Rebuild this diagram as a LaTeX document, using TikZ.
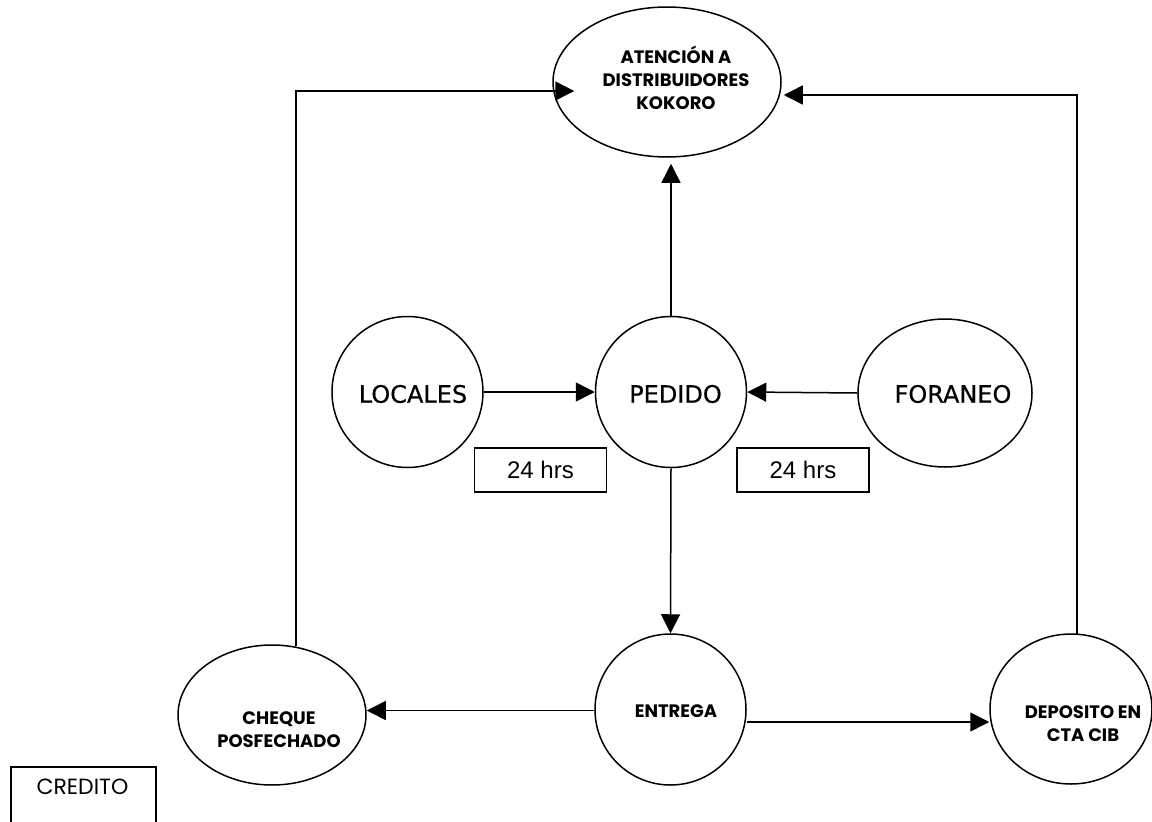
\documentclass[tikz,border=0pt]{standalone}
\usepackage{fontspec}
\setmainfont{Poppins}
\newfontfamily\tahomaf[FakeBold=0.5]{DejaVu Sans}
\newfontfamily\arialf{Liberation Sans}
\usetikzlibrary{arrows.meta,shapes.geometric,calc}
\begin{document}
\begin{tikzpicture}[x=1pt,y=-1pt,
  line width=1.5pt,
  shapeE/.style={draw, ellipse, inner sep=0pt},
  shapeC/.style={draw, circle, inner sep=0pt, minimum size=151pt},
  btext/.style={align=center, font=\fontsize{18}{23}\selectfont\bfseries, inner sep=0pt},
  rtext/.style={font=\fontsize{24}{28}\selectfont\tahomaf, inner sep=0pt},
  hrsbox/.style={draw, rectangle, minimum width=132pt, minimum height=44pt, inner sep=0pt, font=\fontsize{24}{28}\selectfont\arialf},
  arr/.style={-{Triangle[length=19pt,width=19pt]}}
]
\useasboundingbox (0,0) rectangle (1152,822);
\clip (0,0) rectangle (1152,822);

% shapes
\node[shapeE, minimum width=228pt, minimum height=150pt] (aten) at (667,82) {};
\node[shapeC] (loc) at (407.5,392) {};
\node[shapeC] (ped) at (671,392) {};
\node[shapeE, minimum width=174pt, minimum height=148pt] (for) at (945,393) {};
\node[shapeC] (ent) at (670.5,709.5) {};
\node[shapeE, minimum width=188pt, minimum height=140pt] (cheq) at (272,715) {};
\node[shapeE, minimum width=162pt, minimum height=150pt] (dep) at (1071,709) {};

% texts
\node[btext] (atenT) at (676,78) {ATENCIÓN A\\DISTRIBUIDORES\\KOKORO};
\node[rtext] (locT) at (413,394) {LOCALES};
\node[rtext] (pedT) at (675.5,394) {PEDIDO};
\node[rtext] (forT) at (953,394) {FORANEO};
\node[btext] (entT) at (676,711) {ENTREGA};
\node[btext] (cheqT) at (279,730) {CHEQUE\\POSFECHADO};
\node[btext] (depT) at (1083,723.5) {DEPOSITO EN\\CTA CIB};

% 24 hrs boxes
\node[hrsbox] (h1) at (540.5,470) {24 hrs};
\node[hrsbox] (h2) at (803,470) {24 hrs};

% credito box
\node[draw, rectangle, anchor=north west, minimum width=145pt, minimum height=90pt, inner sep=0pt] (cred) at (10,766) {};
\node[font=\fontsize{22}{26}\selectfont, inner sep=0pt] (credT) at (82.5,787) {CREDITO};

% connector corners
\coordinate (c1) at (296,91);
\coordinate (c2) at (1077,95);

% connectors
\draw[arr] (loc.east) -- (ped.west);
\draw[arr] (for.west) -- (ped.east);
\draw[arr] (ped.north) -- ($(ped.north |- aten.south)+(0,6)$);
\draw[arr] (ped.south) -- (ent.north);
\draw[arr] ($(ent.west)+(0,1)$) coordinate (e0) -- (e0 -| cheq.east);
\draw[arr] ($(ent.east)+(0,12.5)$) coordinate (e1) -- (e1 -| dep.west);
\draw[arr] ($(cheq.north -| c1)+(0,2)$) -- (c1) -- ($(c1 -| aten.west)+(22,0)$);
\draw[arr] ($(dep.north -| c2)+(0,1)$) -- (c2) -- ($(c2 -| aten.east)+(2,0)$);
\end{tikzpicture}
\end{document}
